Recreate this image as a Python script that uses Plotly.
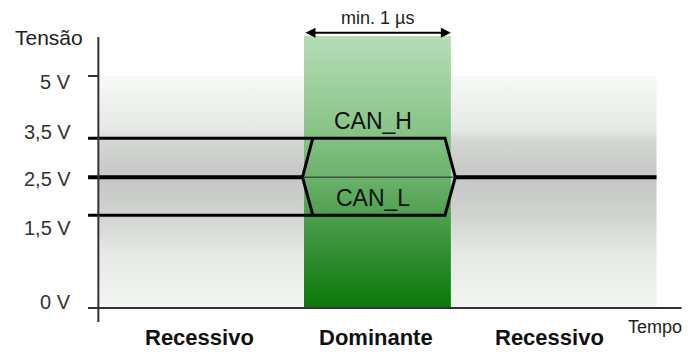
import plotly.graph_objects as go

# ── dados ─────────────────────────────────────────────────────────────────────
# níveis de tensão e altura (esquemática) em que aparecem no desenho
niveis_txt = ["0 V", "1,5 V", "2,5 V", "3,5 V", "5 V"]
niveis_y = [0.0, 2.0, 2.82, 3.66, 5.0]

# tempo: começo/fim do eixo, bit dominante, fim do traçado
t_eixo = [-0.07, 3.97]
t_dom = [1.4, 2.4]
t_fim = 3.8
# instantes dos vértices das transições (subida/descida)
t_trans = [1.39, 1.46, 2.36, 2.43]

fases = ["Recessivo", "Dominante", "Recessivo"]
fases_t = [0.69, 1.89, 3.07]

FONT = "Arial, Liberation Sans, sans-serif"
lv = dict(zip(niveis_txt, niveis_y))
H, M, L = lv["3,5 V"], lv["2,5 V"], lv["1,5 V"]

fig = go.Figure()

# fundo cinza (faixa de 0 a 5 V)
fig.add_trace(go.Scatter(
    x=[0, t_fim, t_fim, 0, 0], y=[0, 0, lv["5 V"], lv["5 V"], 0],
    mode="lines", line=dict(width=0), fill="toself",
    fillgradient=dict(type="vertical", start=0, stop=lv["5 V"], colorscale=[
        [0.00, "#f3f5f3"], [0.24, "#e6e8e6"], [0.40, "#d1d3d1"],
        [0.56, "#c5c7c5"], [0.72, "#d4d6d4"], [0.77, "#e6e8e6"],
        [1.00, "#f7f9f7"]]),
    hoverinfo="skip",
))

# bit dominante (verde)
topo = 5.86
fig.add_trace(go.Scatter(
    x=[t_dom[0], t_dom[1], t_dom[1], t_dom[0], t_dom[0]], y=[0, 0, topo, topo, 0],
    mode="lines", line=dict(width=0), fill="toself",
    fillgradient=dict(type="vertical", start=0, stop=topo, colorscale=[
        [0.00, "#0a780a"], [0.18, "#2c8c2c"], [0.34, "#4f9f4f"],
        [0.48, "#6bb26b"], [0.66, "#89c489"], [1.00, "#b6ddb6"]]),
    hoverinfo="skip",
))

preto = "#000000"
# CAN_H
fig.add_trace(go.Scatter(
    x=[t_eixo[0], t_trans[1], t_trans[2], t_trans[3]], y=[H, H, H, M],
    mode="lines", line=dict(color=preto, width=3), hoverinfo="skip"))
# CAN_L
fig.add_trace(go.Scatter(
    x=[t_eixo[0], t_trans[1], t_trans[2], t_trans[3]], y=[L, L, L, M],
    mode="lines", line=dict(color=preto, width=3), hoverinfo="skip"))
# flanco esquerdo
fig.add_trace(go.Scatter(
    x=[t_trans[1], t_trans[0], t_trans[1]], y=[H, M, L],
    mode="lines", line=dict(color=preto, width=3), hoverinfo="skip"))
# nível recessivo 2,5 V
fig.add_trace(go.Scatter(
    x=[t_eixo[0], t_trans[0]], y=[M, M],
    mode="lines", line=dict(color=preto, width=4), hoverinfo="skip"))
fig.add_trace(go.Scatter(
    x=[t_trans[3], t_fim], y=[M, M],
    mode="lines", line=dict(color=preto, width=4), hoverinfo="skip"))
fig.add_trace(go.Scatter(
    x=[t_trans[0], t_trans[3]], y=[M, M],
    mode="lines", line=dict(color="#222222", width=1), hoverinfo="skip"))

# eixos desenhados
eixo = dict(color="#333333", width=2)
fig.add_shape(type="line", x0=0, x1=0, y0=-0.3, y1=5.84, line=eixo)
fig.add_shape(type="line", x0=t_eixo[0], x1=t_eixo[1], y0=0, y1=0, line=eixo)
fig.add_shape(type="line", x0=t_eixo[0], x1=0, y0=lv["5 V"], y1=lv["5 V"], line=eixo)

# rótulos de tensão
ajuste = [6, -13, -2, 6, -6]
for txt, y, dy in zip(niveis_txt, niveis_y, ajuste):
    fig.add_annotation(x=-0.17, y=y, yshift=dy, text=txt, showarrow=False,
                       xanchor="right", font=dict(family=FONT, size=20, color="#333333"))

fig.add_annotation(x=-0.09, y=5.84, text="Tensão", showarrow=False, xanchor="right",
                   font=dict(family=FONT, size=21, color="#222222"))
fig.add_annotation(x=3.99, y=-0.41, text="Tempo", showarrow=False, xanchor="right",
                   font=dict(family=FONT, size=18, color="#222222"))

for txt, t in zip(fases, fases_t):
    fig.add_annotation(x=t, y=-0.63, text=f"<b>{txt}</b>", showarrow=False,
                       font=dict(family=FONT, size=22, color="#111111"))

fig.add_annotation(x=1.87, y=4.03, text="CAN_H", showarrow=False,
                   font=dict(family=FONT, size=23, color="#111111"))
fig.add_annotation(x=1.87, y=2.37, text="CAN_L", showarrow=False,
                   font=dict(family=FONT, size=23, color="#111111"))

# seta "min. 1 µs"
fig.add_annotation(x=t_dom[1], y=5.93, ax=t_dom[0], ay=5.93, axref="x", ayref="y",
                   text="", showarrow=True, arrowhead=2, arrowside="end+start",
                   arrowsize=1, arrowwidth=2, arrowcolor=preto)
fig.add_annotation(x=sum(t_dom) / 2, y=6.26, text="min. 1 µs", showarrow=False,
                   font=dict(family=FONT, size=18, color="#222222"))

# a página tem 8 px de margem: figura 686x346 e área de desenho ocupando tudo
fig.update_layout(
    width=686, height=346,
    margin=dict(l=0, r=0, t=0, b=0),
    paper_bgcolor="white", plot_bgcolor="white",
    showlegend=False,
    xaxis=dict(range=[-0.615, 4.055], visible=False, fixedrange=True),
    yaxis=dict(range=[-0.991, 6.466], visible=False, fixedrange=True),
)

fig.write_html("out.html")
